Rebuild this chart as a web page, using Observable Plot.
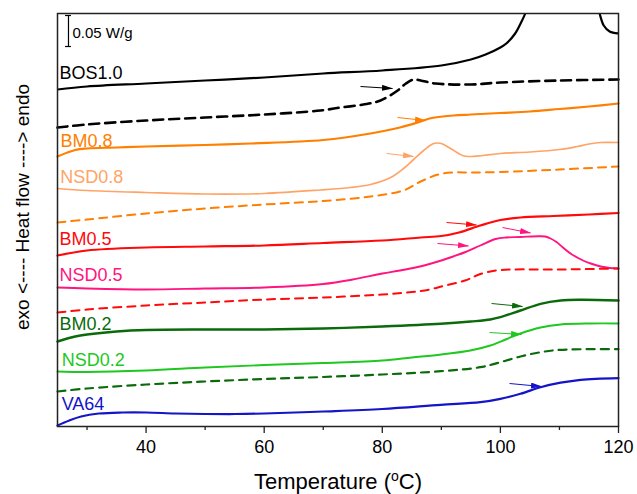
<!DOCTYPE html>
<html>
<head>
<meta charset="utf-8">
<script src="https://cdn.jsdelivr.net/npm/d3@7"></script>
<script src="https://cdn.jsdelivr.net/npm/@observablehq/plot@0.6"></script>
<style>
  html, body { margin: 0; padding: 0; background: #fff; }
  #chart { width: 637px; height: 494px; }
</style>
</head>
<body>
<div id="chart"></div>
<script>
// ---------- data (temperature in °C, heat flow in arbitrary offset units, 31 units = 0.05 W/g) ----------
const bos10T = [25,30,40,50,60,70,80,90,95,97.5,100,101,102.5,103.5,104.2,105,108,112,116,116.8,117.5,118.5,120];
const bos10V = [337,340,343,346,349,353,356,361,367,372,379,383,393,404,413,431,456,456,431,413,401,395,393];

const bos10dT = [25,30,40,50,60,69.5,73,76.8,79.7,82.6,84,85.3,86.5,89,95,100,110,120];
const bos10dV = [299,302,306,309,312,316,319,322,326,336,343,347,346,343,342,344,346,347];

const bm08T = [25,28,30,35,40,50,57.7,70,78,83,86.5,88,92,95,100,105,110,115,120];
const bm08V = [270,276.5,278,279,280,281.5,283,286.5,293,299,305,308,311,312,313.5,315,317.5,320,323];

const nsd08T = [25,30,40,50,60,69.5,74.6,78,81.4,83.6,85.3,87,88.5,89.35,90,91.55,93.6,94.6,97,100,105,110,113,115,117,120];
const nsd08V = [238,236,234,232.5,233,236.5,239,242,249,258,267,276,282.5,283.5,283,278,271,270,271,273,274.5,277,280,282.5,284,284];

const pm08T = [25,30,40,50,60,70,78,83.6,86.5,89.5,92,95,100,110,120];
const pm08V = [204,207,213,218,222,225.5,230,236,245,252,254,254,254.5,257,260];

const bm05T = [25,30,40,50,60,70,80,86.5,90,93,96.6,100,103.4,109,115,120];
const bm05V = [171,176,179,180,181,183.5,186,189,190.5,194,201,206.5,209,210.5,212,213.5];

const nsd05T = [25,30,40,50,60,70,75,80,83,86,88,90,92,94.1,96.6,99.2,101,103.4,106.5,107.6,108.5,109.5,110.5,112,114,115.3,117,118.5,120];
const nsd05V = [139,138,137,138,139,142.5,147,153,156,159.5,162.5,166,170,174.5,181,187.5,189,189.5,190.3,190,188,184.5,179.5,172.5,166,163,160,158.5,158];

const pm05T = [25,30,40,50,60,70,80,85,88,90,94,96.6,99.2,102,110,120];
const pm05V = [114,117,121,124,127,129,132,134.5,137,140,146,152.5,156,157,157,158];

const bm02T = [25,28,30,35,40,50,60,70,80,89.9,95,98.3,100,103.4,106.8,110.2,113.6,120];
const bm02V = [85,90,92,95,96.5,97,97,98,100,102.7,105,107,109.3,116,122.7,126,126.7,126];

const nsd02T = [25,30,40,50,60,70,80,85,90,94.9,98.3,100.9,103.4,106.8,110.2,115.3,120];
const nsd02V = [55,54.5,56,59,61.5,63.5,66,69,72,76,81,87,93,99,102,103,103];

const pm02T = [25,30,40,50,60,70,80,89.9,96.6,100,103.4,106.8,110.2,120];
const pm02V = [35,38,42,45,47.5,49.5,52,55.3,59.3,64.3,70,74.3,76.7,77.3];

const va64T = [25,27,29,32,36,40,45,50,55,60,70,80,89.9,96.6,100,103.4,106.8,110.2,113.6,120];
const va64V = [1,6,10,13,14,14,13,12.5,12.5,13,15,17.5,21.7,24.3,27.7,32.7,39.3,43.8,46.7,48.3];

// curve labels
const labelNames = ["BOS1.0","BM0.8","NSD0.8","BM0.5","NSD0.5","BM0.2","NSD0.2","VA64"];
const labelT     = [25.35, 25.5, 25.45, 25.35, 25.35, 25.35, 25.7, 25.7];
const labelV     = [348, 280, 244, 182, 146, 97, 61, 17];
const labelColor = ["#000000","#FF7F00","#FFA466","#FF0A0A","#FF1480","#0B6B0B","#1EC81E","#1414C8"];

// glass-transition arrows
const arrowT1 = [76.31, 82.58, 80.72, 90.88, 89.35, 100.36, 98.5, 98.16, 101.55];
const arrowV1 = [340, 309, 273, 204, 183, 199, 123, 94, 43];
const arrowT2 = [81.73, 87.32, 85.29, 95.96, 94.6, 105.1, 103.75, 103.58, 106.96];
const arrowV2 = [338, 306, 270, 201.5, 180.5, 193.5, 120, 92, 40];
const arrowColor = ["#000000","#FF7F00","#FFA466","#FF0A0A","#FF1480","#FF1480","#0B6B0B","#1EC81E","#1414C8"];

// scale bar (0.05 W/g)
const scaleBarT = 26.86;
const scaleBarV = [380, 411];
const scaleBarText = "0.05 W/g";

// axes
const xDomain = [25, 120];
const majorTicks = [40, 60, 80, 100, 120];
const minorTicks = [30, 50, 70, 90, 110];
const xTitle = "Temperature (oC)";
const yTitle = "exo <---- Heat flow ----> endo";

// ---------- build ----------
const toRows = (T, V) => T.map((t, i) => ({T: t, V: V[i]}));
const series = [
  {rows: toRows(bos10T, bos10V),   color: "#000000", w: 2.2, dash: null, clip: true},
  {rows: toRows(bos10dT, bos10dV), color: "#000000", w: 2.6, dash: "10,6"},
  {rows: toRows(bm08T, bm08V),     color: "#FF7F00", w: 2.2, dash: null},
  {rows: toRows(nsd08T, nsd08V),   color: "#FFA466", w: 1.7, dash: null},
  {rows: toRows(pm08T, pm08V),     color: "#FF7F00", w: 2.0, dash: "8,6"},
  {rows: toRows(bm05T, bm05V),     color: "#FF0A0A", w: 2.2, dash: null},
  {rows: toRows(nsd05T, nsd05V),   color: "#FF1480", w: 1.9, dash: null},
  {rows: toRows(pm05T, pm05V),     color: "#FF0A0A", w: 2.0, dash: "8,6"},
  {rows: toRows(bm02T, bm02V),     color: "#0B6B0B", w: 2.4, dash: null},
  {rows: toRows(nsd02T, nsd02V),   color: "#1EC81E", w: 1.9, dash: null},
  {rows: toRows(pm02T, pm02V),     color: "#0B6B0B", w: 2.2, dash: "8,6"},
  {rows: toRows(va64T, va64V),     color: "#1414C8", w: 2.2, dash: null}
];
const labels = labelNames.map((n, i) => ({name: n, T: labelT[i], V: labelV[i], color: labelColor[i]}));
const arrows = arrowT1.map((t, i) => ({T1: t, V1: arrowV1[i], T2: arrowT2[i], V2: arrowV2[i], color: arrowColor[i]}));

const lineMarks = series.map(s => Plot.line(s.rows, {
  x: "T", y: "V", stroke: s.color, strokeWidth: s.w,
  strokeDasharray: s.dash || undefined, curve: "catmull-rom", clip: !!s.clip
}));

const svg = Plot.plot({
  width: 637,
  height: 494,
  marginLeft: 57,
  marginRight: 19,
  marginTop: 13,
  marginBottom: 68,
  style: {fontFamily: "Arial, 'Liberation Sans', sans-serif", background: "#fff", color: "#000"},
  x: {domain: xDomain},
  y: {domain: [0, 413], axis: null},
  color: {type: "identity"},
  marks: [
    ...lineMarks,
    Plot.link(arrows, {x1: "T1", y1: "V1", x2: "T2", y2: "V2", stroke: "color", strokeWidth: 1}),
    Plot.text(labels, {x: "T", y: "V", text: "name", fill: "color", fontSize: 18, textAnchor: "start", lineAnchor: "bottom"}),
    Plot.ruleX([scaleBarT], {x: d => d, y1: scaleBarV[0], y2: scaleBarV[1], stroke: "#000", strokeWidth: 1.2}),
    Plot.ruleY(scaleBarV, {y: d => d, x1: scaleBarT - 0.5, x2: scaleBarT + 0.5, stroke: "#000", strokeWidth: 1.2}),
    Plot.text([scaleBarText], {x: scaleBarT + 0.68, y: 389, text: d => d, fontSize: 15, textAnchor: "start", lineAnchor: "bottom", fill: "#000"}),
    Plot.axisX({ticks: majorTicks, tickSize: 7, tickPadding: 7, fontSize: 18, stroke: "#222", strokeWidth: 1.3, label: null}),
    Plot.axisX({ticks: minorTicks, tickSize: 4, tickFormat: () => "", stroke: "#222", strokeWidth: 1.3, label: null}),
    Plot.frame({stroke: "#222", strokeWidth: 1.5}),
    Plot.text([xTitle], {frameAnchor: "bottom", dy: 62, lineAnchor: "bottom", text: d => d, fontSize: 22, fill: "#000"}),
    Plot.text([yTitle], {frameAnchor: "left", dx: -35, dy: -13, rotate: -90, text: d => d, fontSize: 19, textAnchor: "middle", lineAnchor: "middle", fill: "#000"})
  ]
});

// filled arrowheads on the link paths
const sel = d3.select(svg);
const defs = sel.insert("defs", ":first-child");
sel.selectAll('g[aria-label="link"] path, g[aria-label="link"] line').each(function(d, i) {
  const el = d3.select(this);
  const c = el.attr("stroke") || "#000";
  const id = "arrowhead-" + i;
  defs.append("marker")
    .attr("id", id).attr("viewBox", "0 0 11 6").attr("refX", 10.5).attr("refY", 3)
    .attr("markerWidth", 11).attr("markerHeight", 6).attr("markerUnits", "userSpaceOnUse")
    .attr("orient", "auto")
    .append("path").attr("d", "M0,0L11,3L0,6Z").attr("fill", c).attr("stroke", "none");
  el.attr("marker-end", `url(#${id})`);
});

// superscript "o" in the x title
sel.selectAll("text").filter(function() { return this.textContent === xTitle; }).each(function() {
  const t = d3.select(this);
  t.text(null);
  t.append("tspan").text("Temperature (");
  t.append("tspan").attr("dy", -8).attr("font-size", 14).text("o");
  t.append("tspan").attr("dy", 8).text("C)");
});

document.getElementById("chart").appendChild(svg);
</script>
</body>
</html>
